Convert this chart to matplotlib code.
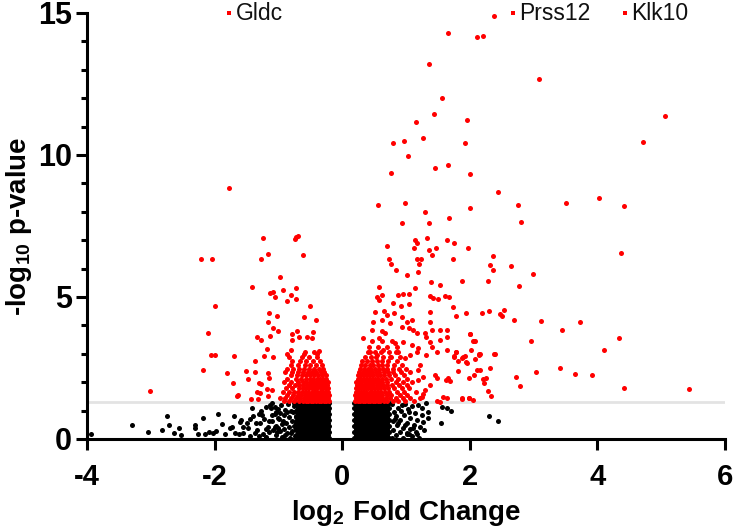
import matplotlib
matplotlib.use("Agg")
import matplotlib.pyplot as plt

plt.rcParams["font.family"] = ["Liberation Sans", "DejaVu Sans"]
plt.rcParams["font.weight"] = "bold"
plt.rcParams["mathtext.default"] = "regular"
plt.rcParams["axes.unicode_minus"] = False

# scattered significant genes (log2 FC, -log10 p)
RED_SPARSE = [
    (2.38, 14.89), (1.66, 14.31), (2.12, 14.17), (2.20, 14.20), (1.36, 13.21),
    (3.08, 12.68), (1.56, 12.00), (1.44, 11.44), (1.16, 11.15), (1.96, 11.22),
    (0.80, 10.43), (0.97, 10.48), (1.26, 10.61), (1.92, 10.43), (5.06, 11.36),
    (4.72, 10.47), (1.03, 9.95), (0.76, 9.35), (1.45, 9.55), (1.66, 9.64),
    (2.01, 9.33), (2.44, 8.71), (0.56, 8.24), (0.99, 8.31), (1.30, 8.00),
    (2.00, 8.15), (1.67, 7.79), (0.94, 7.59), (1.36, 7.61), (1.14, 7.02),
    (1.17, 6.90), (1.33, 7.07), (1.64, 7.01), (1.75, 6.89), (0.70, 6.80),
    (1.13, 6.74), (1.36, 6.65), (1.47, 6.74), (1.97, 6.74), (1.40, 6.48),
    (2.36, 6.44), (0.74, 6.35), (1.18, 6.34), (1.23, 6.34), (1.74, 6.34),
    (0.76, 6.16), (1.20, 6.16), (2.32, 6.14), (0.84, 5.95), (2.37, 5.95),
    (1.19, 5.88), (1.02, 5.76), (1.39, 5.52), (1.53, 5.42), (1.87, 5.55),
    (2.29, 5.55), (0.58, 5.36), (1.14, 5.33), (2.75, 8.24), (3.51, 8.31),
    (4.03, 8.47), (4.41, 8.22), (2.80, 7.64), (4.37, 6.55), (2.64, 6.08),
    (2.99, 5.81), (2.77, 5.38), (2.19, 4.43), (2.30, 4.50), (2.47, 4.40),
    (2.53, 4.53), (2.50, 4.33), (2.69, 4.20), (3.12, 4.15), (3.72, 4.12),
    (3.45, 3.83), (2.96, 3.44), (4.34, 3.57), (4.11, 3.15), (2.16, 2.98),
    (2.39, 2.98), (2.31, 2.51), (2.16, 2.43), (2.21, 2.10), (2.25, 2.14),
    (2.22, 1.98), (2.72, 2.17), (3.03, 2.35), (3.41, 2.51), (3.65, 2.29),
    (3.91, 2.24), (2.78, 1.87), (2.29, 1.70), (2.33, 1.50), (4.41, 1.80),
    (5.44, 1.76),
    # right mid cloud
    (0.58, 4.89), (0.55, 4.99), (0.62, 5.07), (0.88, 5.07), (0.96, 5.10),
    (1.05, 5.09), (0.80, 4.78), (0.92, 4.69), (1.04, 4.75), (1.37, 5.04),
    (1.43, 4.95), (1.50, 4.92), (1.61, 5.05), (1.68, 4.99), (1.74, 4.64),
    (1.79, 4.33), (1.94, 4.43), (1.37, 4.48), (1.38, 4.13), (0.51, 4.48),
    (0.65, 4.52), (0.70, 4.37), (0.81, 4.45), (0.48, 4.13), (0.62, 4.19),
    (0.75, 4.07), (0.93, 4.31), (1.01, 4.13), (1.09, 4.19), (0.93, 3.95),
    (1.04, 3.90), (1.11, 3.84), (1.17, 3.72), (0.46, 3.84), (0.63, 3.81),
    (0.67, 3.72), (0.57, 3.55), (0.33, 3.55), (1.30, 3.72), (1.40, 3.84),
    (1.53, 3.84), (1.64, 3.84), (1.31, 3.58), (1.38, 3.43), (1.53, 3.49),
    (1.65, 3.58), (2.01, 3.70), (2.05, 3.45), (2.08, 3.45), (0.83, 3.37),
    (0.96, 3.43), (1.09, 3.31), (1.19, 3.19), (0.44, 3.07), (0.54, 2.96),
    (0.64, 3.13), (0.75, 2.90), (0.88, 3.07), (0.98, 2.84), (1.06, 2.96),
    (1.17, 3.07), (1.31, 2.96), (1.40, 3.25), (1.48, 3.07), (1.64, 3.13),
    (1.79, 3.07), (1.76, 2.90), (1.90, 2.90), (1.94, 2.72), (2.14, 2.96),
    (2.38, 2.99), (1.81, 2.40), (1.98, 2.14), (2.12, 2.43), (2.07, 2.25),
    (1.66, 2.14), (1.62, 2.08), (1.69, 2.04), (1.45, 2.25), (1.48, 2.14),
    (1.38, 1.90), (1.58, 1.49), (1.64, 1.43), (1.48, 1.35), (1.53, 1.31),
    (1.87, 1.43), (1.98, 1.43), (2.05, 1.37), (1.26, 1.60), (1.30, 1.73),
    (1.25, 1.49), (1.22, 2.61), (1.19, 2.43), (1.27, 2.19), (1.19, 2.08),
    (1.99, 1.43), (1.88, 1.40), (2.08, 2.83), (2.14, 2.98), (2.02, 3.13),
    (2.07, 3.46), (2.01, 3.70), (1.92, 2.92), (1.87, 2.85), (1.95, 2.67),
    (1.75, 2.92), (1.81, 2.75), (1.78, 3.07),
    # left side
    (-1.78, 8.85), (-1.24, 7.08), (-0.74, 7.05), (-0.72, 7.10), (-0.69, 7.15),
    (-2.22, 6.34), (-2.04, 6.34), (-1.27, 6.34), (-1.16, 6.51), (-0.61, 6.49),
    (-0.97, 5.69), (-1.41, 5.36), (-0.72, 5.33), (-0.93, 5.25), (-1.13, 5.15),
    (-1.08, 5.18), (-0.81, 5.06), (-1.05, 5.01), (-0.87, 4.86), (-0.73, 4.94),
    (-1.99, 4.69), (-0.51, 4.68), (-1.15, 4.45), (-1.02, 4.32), (-0.60, 4.30),
    (-1.17, 4.13), (-0.41, 4.18), (-1.08, 3.92), (-1.01, 3.80), (-0.71, 3.81),
    (-0.79, 3.69), (-2.10, 3.72), (-1.13, 3.64), (-0.46, 3.76), (-1.33, 3.58),
    (-1.27, 3.50), (-0.78, 3.50), (-0.67, 3.58), (-0.55, 3.58), (-0.48, 3.56),
    (-1.18, 3.18), (-0.80, 3.12), (-2.05, 2.97), (-2.00, 2.97), (-1.69, 2.91),
    (-1.36, 2.76), (-1.23, 2.93), (-1.08, 2.90), (-0.87, 2.99), (-0.60, 2.99),
    (-0.39, 2.99), (-0.36, 3.10), (-2.18, 2.43), (-1.81, 2.32), (-1.51, 2.39),
    (-1.36, 2.35), (-1.71, 1.98), (-1.47, 2.11), (-1.30, 1.97), (-1.28, 1.94),
    (-1.17, 2.33), (-1.15, 2.14), (-1.63, 1.55), (-1.65, 1.51), (-1.43, 1.41),
    (-1.34, 1.67), (-1.29, 1.63), (-1.32, 1.41), (-1.18, 1.77), (-1.16, 1.50),
    (-1.10, 1.73), (-3.01, 1.70),
]

# dense significant cloud, one row per -log10 p level
RED_DENSE = {
    1.35: [0.20, 0.24, 0.28, 0.32, 0.36, 0.40, 0.44, 0.48, 0.52, 0.56, 0.60, 0.65, 0.71, 0.79, 0.88, 0.99, 1.12,
           -0.21, -0.25, -0.29, -0.33, -0.37, -0.41, -0.45, -0.49, -0.53, -0.57, -0.62, -0.68, -0.75, -0.83, -0.92],
    1.45: [0.22, 0.26, 0.30, 0.34, 0.38, 0.42, 0.46, 0.50, 0.54, 0.58, 0.63, 0.68, 0.75, 0.84, 0.95, 1.06, 1.22,
           -0.23, -0.27, -0.31, -0.35, -0.39, -0.43, -0.47, -0.51, -0.55, -0.60, -0.66, -0.72, -0.80, -0.89, -0.97],
    1.56: [0.20, 0.24, 0.28, 0.32, 0.36, 0.40, 0.44, 0.49, 0.53, 0.57, 0.62, 0.70, 0.77, 0.91, 1.02,
           -0.21, -0.25, -0.29, -0.33, -0.37, -0.42, -0.46, -0.50, -0.55, -0.59, -0.64, -0.70, -0.77, -0.86],
    1.67: [0.22, 0.26, 0.30, 0.34, 0.38, 0.43, 0.47, 0.51, 0.56, 0.61, 0.67, 0.74, 0.86, 0.97, 1.15,
           -0.23, -0.27, -0.31, -0.35, -0.40, -0.44, -0.48, -0.53, -0.58, -0.63, -0.69, -0.75, -0.83, -0.93],
    1.78: [0.21, 0.25, 0.29, 0.33, 0.37, 0.41, 0.45, 0.50, 0.55, 0.60, 0.66, 0.72, 0.81, 0.93, 1.05,
           -0.22, -0.26, -0.30, -0.34, -0.39, -0.43, -0.48, -0.52, -0.57, -0.62, -0.68, -0.78, -0.88],
    1.89: [0.23, 0.27, 0.31, 0.36, 0.40, 0.44, 0.49, 0.54, 0.59, 0.64, 0.71, 0.78, 0.89, 1.01,
           -0.24, -0.28, -0.32, -0.37, -0.41, -0.46, -0.50, -0.55, -0.61, -0.67, -0.74, -0.84],
    2.00: [0.22, 0.26, 0.30, 0.35, 0.39, 0.44, 0.48, 0.53, 0.58, 0.63, 0.70, 0.84, 0.95, 1.10,
           -0.23, -0.27, -0.32, -0.36, -0.41, -0.45, -0.50, -0.56, -0.62, -0.70, -0.81, -0.92],
    2.12: [0.24, 0.28, 0.33, 0.37, 0.42, 0.46, 0.51, 0.56, 0.62, 0.68, 0.76, 0.88, 1.02,
           -0.25, -0.30, -0.35, -0.40, -0.45, -0.51, -0.57, -0.64, -0.73, -0.86],
    2.24: [0.25, 0.30, 0.34, 0.39, 0.44, 0.49, 0.54, 0.60, 0.66, 0.74, 0.83, 0.97,
           -0.26, -0.32, -0.38, -0.44, -0.50, -0.56, -0.63, -0.71, -0.80],
    2.36: [0.27, 0.32, 0.37, 0.42, 0.47, 0.53, 0.58, 0.65, 0.72, 0.80, 0.92, 1.06,
           -0.28, -0.34, -0.41, -0.47, -0.54, -0.61, -0.69, -0.78, -0.90],
    2.48: [0.28, 0.34, 0.40, 0.45, 0.51, 0.57, 0.64, 0.71, 0.79, 0.89, 1.00,
           -0.30, -0.37, -0.44, -0.52, -0.60, -0.68, -0.77, -0.86],
    2.60: [0.30, 0.36, 0.43, 0.49, 0.56, 0.63, 0.70, 0.81, 0.94,
           -0.32, -0.41, -0.50, -0.59, -0.70, -0.81],
    2.75: [0.31, 0.39, 0.47, 0.55, 0.62, 0.72, 0.86, -0.35, -0.45, -0.56, -0.66, -0.78],
    2.90: [0.35, 0.45, 0.53, 0.64, 0.77, 0.91, -0.40, -0.52, -0.63, -0.83],
    3.05: [0.40, 0.51, 0.61, 0.73, 0.85, -0.44, -0.58],
    3.25: [0.42, 0.56, 0.70, 0.86],
    3.45: [0.47, 0.62, 0.78],
}

# non-significant genes, solid blocks near zero fold change
BLACK_DENSE = {
    0.03: [0.19, 0.245, 0.30, 0.355, 0.41, 0.465, 0.52, 0.575, 0.63, 0.685, 0.74,
           -0.20, -0.255, -0.31, -0.365, -0.42, -0.475, -0.53, -0.585, -0.64, -0.695],
    0.135: [0.215, 0.27, 0.325, 0.38, 0.435, 0.49, 0.545, 0.60, 0.655, 0.71,
            -0.23, -0.285, -0.34, -0.395, -0.45, -0.505, -0.56, -0.615, -0.67, -0.72],
    0.24: [0.19, 0.245, 0.30, 0.355, 0.41, 0.465, 0.52, 0.575, 0.63, 0.685, 0.74,
           -0.20, -0.255, -0.31, -0.365, -0.42, -0.475, -0.53, -0.585, -0.64, -0.695],
    0.345: [0.215, 0.27, 0.325, 0.38, 0.435, 0.49, 0.545, 0.60, 0.655, 0.71,
            -0.23, -0.285, -0.34, -0.395, -0.45, -0.505, -0.56, -0.615, -0.67, -0.72],
    0.45: [0.19, 0.245, 0.30, 0.355, 0.41, 0.465, 0.52, 0.575, 0.63, 0.685, 0.74,
           -0.20, -0.255, -0.31, -0.365, -0.42, -0.475, -0.53, -0.585, -0.64, -0.695],
    0.555: [0.215, 0.27, 0.325, 0.38, 0.435, 0.49, 0.545, 0.60, 0.655, 0.71,
            -0.23, -0.285, -0.34, -0.395, -0.45, -0.505, -0.56, -0.615, -0.67, -0.72],
    0.66: [0.19, 0.245, 0.30, 0.355, 0.41, 0.465, 0.52, 0.575, 0.63, 0.685, 0.74,
           -0.20, -0.255, -0.31, -0.365, -0.42, -0.475, -0.53, -0.585, -0.64, -0.695],
    0.765: [0.215, 0.27, 0.325, 0.38, 0.435, 0.49, 0.545, 0.60, 0.655, 0.71,
            -0.23, -0.285, -0.34, -0.395, -0.45, -0.505, -0.56, -0.615, -0.67, -0.72],
    0.87: [0.19, 0.245, 0.30, 0.355, 0.41, 0.465, 0.52, 0.575, 0.63, 0.685, 0.74,
           -0.20, -0.255, -0.31, -0.365, -0.42, -0.475, -0.53, -0.585, -0.64, -0.695],
    0.975: [0.215, 0.27, 0.325, 0.38, 0.435, 0.49, 0.545, 0.60, 0.655, 0.71,
            -0.23, -0.285, -0.34, -0.395, -0.45, -0.505, -0.56, -0.615, -0.67, -0.72],
    1.08: [0.19, 0.245, 0.30, 0.355, 0.41, 0.465, 0.52, 0.575, 0.63, 0.685, 0.74,
           -0.20, -0.255, -0.31, -0.365, -0.42, -0.475, -0.53, -0.585, -0.64, -0.695],
    1.185: [0.215, 0.27, 0.325, 0.38, 0.435, 0.49, 0.545, 0.60, 0.655, 0.71,
            -0.23, -0.285, -0.34, -0.395, -0.45, -0.505, -0.56, -0.615, -0.67, -0.72],
    1.27: [0.19, 0.245, 0.30, 0.355, 0.41, 0.465, 0.52, 0.575, 0.63, 0.685, 0.74,
           -0.20, -0.255, -0.31, -0.365, -0.42, -0.475, -0.53, -0.585, -0.64, -0.695],
}

BLACK_SPARSE = [
    (0.78, 0.05), (0.80, 0.30), (0.79, 0.62), (0.81, 0.95), (0.78, 1.22), (0.84, 0.15),
    (0.86, 0.48), (0.85, 0.80), (0.87, 1.10), (0.90, 0.25), (0.91, 0.66), (0.92, 1.00),
    (0.95, 0.05), (0.96, 0.40), (0.97, 0.85), (0.98, 1.25), (1.01, 0.20), (1.02, 0.58),
    (1.03, 1.05), (1.06, 0.35), (1.07, 0.75), (1.09, 0.10), (1.10, 1.15), (1.12, 0.50),
    (1.14, 0.90), (1.16, 0.26), (1.17, 0.67), (1.19, 1.20), (1.22, 0.43), (1.25, 0.85),
    (1.25, 1.08), (1.27, 0.60), (1.31, 1.26), (1.34, 0.96), (1.35, 0.73), (1.11, 0.38),
    (1.17, 0.19), (1.02, 0.19), (0.88, 0.58), (0.93, 1.20), (1.05, 0.95), (1.20, 0.05),
    (1.28, 0.30), (0.83, 0.70), (0.99, 0.48), (1.04, 0.17), (1.55, 0.57), (1.57, 1.14),
    (1.64, 1.08), (1.71, 1.00), (2.30, 0.82), (2.44, 0.63),
    (-0.74, 0.10), (-0.75, 0.45), (-0.73, 0.80), (-0.76, 1.15), (-0.78, 0.28), (-0.79, 0.62),
    (-0.80, 0.98), (-0.82, 0.05), (-0.83, 0.42), (-0.84, 0.78), (-0.85, 1.22), (-0.87, 0.20),
    (-0.88, 0.58), (-0.89, 1.02), (-0.91, 0.35), (-0.92, 0.85), (-0.94, 0.08), (-0.95, 0.52),
    (-0.96, 1.18), (-0.98, 0.28), (-0.99, 0.70), (-1.01, 1.05), (-1.03, 0.15), (-1.04, 0.47),
    (-1.06, 0.88), (-1.08, 0.30), (-1.10, 0.62), (-1.12, 1.10), (-0.77, 0.95), (-0.81, 0.20),
    (-0.86, 0.95), (-0.90, 0.15), (-0.93, 0.65), (-0.97, 0.90), (-1.00, 0.40), (-0.72, 0.30),
    (-0.72, 0.62), (-0.73, 0.98), (-0.75, 1.27), (-1.13, 1.20), (-1.10, 1.26), (-1.06, 1.12),
    (-1.10, 0.85), (-1.03, 0.96), (-1.00, 0.73), (-1.05, 0.43), (-1.02, 0.26), (-1.17, 0.43),
    (-1.14, 0.26), (-1.24, 0.18), (-1.27, 1.00), (-1.31, 0.89), (-1.29, 0.55), (-1.23, 0.69),
    (-1.42, 1.08), (-1.40, 0.82), (-1.37, 0.20), (-1.33, 0.32), (-1.50, 0.55), (-1.47, 0.38),
    (-1.60, 0.61), (-1.58, 0.67), (-1.56, 0.43), (-1.61, 0.18), (-1.55, 0.20), (-1.70, 0.81),
    (-1.68, 0.20), (-1.76, 0.38), (-1.73, 0.43), (-1.84, 0.18), (-1.88, 0.53), (-1.94, 0.87),
    (-2.02, 0.20), (-1.98, 0.29), (-2.08, 0.26), (-2.15, 0.19), (-2.18, 0.73), (-2.26, 0.17),
    (-2.31, 0.50), (-2.31, 0.40), (-2.52, 0.15), (-2.56, 0.40), (-2.63, 0.21), (-2.71, 0.48),
    (-2.74, 0.81), (-2.82, 0.31), (-3.04, 0.24), (-3.30, 0.50), (-3.94, 0.17),
    (-1.45, 0.70), (-1.35, 0.55), (-1.20, 0.35), (-1.25, 0.85), (-1.15, 0.62), (-1.19, 1.12),
    (-1.30, 0.10), (-1.45, 0.12), (-1.20, 0.08),
]

# off-scale genes labelled at the top
LABEL_GENES = ["Gldc", "Prss12", "Klk10"]
LABEL_X = [-1.77, 2.67, 4.43]
LABEL_Y = [15.0, 15.0, 15.0]

P_CUTOFF = 1.3


def unpack(points, rows):
    xs = [p[0] for p in points]
    ys = [p[1] for p in points]
    for y, row in rows.items():
        xs += row
        ys += [y] * len(row)
    return xs, ys


def main():
    fig = plt.figure(figsize=(7.35, 5.3), dpi=100)
    ax = fig.add_axes([87 / 735, 91 / 530, 638 / 735, 426 / 530])

    ax.axhline(P_CUTOFF, color="#e3e3e3", lw=2, zorder=1)

    bx, by = unpack(BLACK_SPARSE, BLACK_DENSE)
    rx, ry = unpack(RED_SPARSE, RED_DENSE)
    ax.scatter(bx, by, s=13, c="black", linewidths=0, zorder=3, clip_on=False)
    ax.scatter(rx, ry, s=13, c="#ff0000", linewidths=0, zorder=3, clip_on=False)

    ax.scatter(LABEL_X, LABEL_Y, s=10, marker="s", c="#ff0000", linewidths=0,
               zorder=4, clip_on=False)
    for name, x, y in zip(LABEL_GENES, LABEL_X, LABEL_Y):
        ax.text(x + 0.1, y, name, fontsize=16.5, fontweight="normal",
                va="center", ha="left", color="#111111", clip_on=False)

    ax.set_xlim(-4, 6)
    ax.set_ylim(0, 15)
    ax.set_xticks([-4, -2, 0, 2, 4, 6])
    ax.set_yticks([0, 5, 10, 15])
    ax.set_yticks(range(0, 16), minor=True)

    for side in ["top", "right"]:
        ax.spines[side].set_visible(False)
    for side in ["left", "bottom"]:
        ax.spines[side].set_linewidth(2.2)

    ax.tick_params(axis="both", which="major", length=8, width=2.2)
    ax.tick_params(axis="y", which="minor", length=4.5, width=2.2)
    ax.tick_params(axis="x", which="major", pad=9, labelsize=21)
    ax.tick_params(axis="y", which="major", pad=3, labelsize=22)

    ax.set_xlabel("log$_2$ Fold Change", fontsize=20, fontweight="bold", labelpad=5)
    ax.set_ylabel("-log$_{10}$ p-value", fontsize=20, fontweight="bold", labelpad=3)

    fig.savefig("out.png", dpi=100)
    plt.close(fig)


if __name__ == "__main__":
    main()
